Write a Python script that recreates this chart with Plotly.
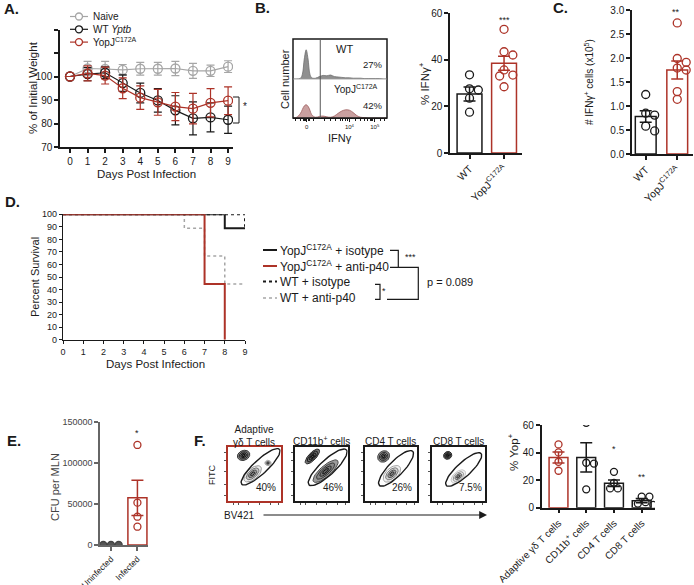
"""Multi-panel figure: weight loss, IFNg, survival, CFU and Yop+ cells"""

import numpy as np
import plotly.graph_objects as go

W, H = 694, 585
BLACK = "#1a1a1a"
RED = "#ad3328"
GRAY = "#a6a6a6"
FONT = "Liberation Sans, Arial, sans-serif"

# ---- Panel A: weight over time
days = [0, 1, 2, 3, 4, 5, 6, 7, 8, 9]
naive_mean = [100, 103.4, 103.2, 102.8, 103.3, 103.3, 103.4, 102.4, 102.4, 104.2]
naive_sem = [0, 3.0, 3.2, 2.3, 2.7, 2.7, 3.0, 3.2, 2.4, 2.5]
wt_mean = [100, 101.0, 101.6, 97.2, 93.0, 89.8, 85.6, 82.2, 82.6, 81.6]
wt_sem = [0, 2.8, 2.5, 3.5, 4.2, 5.0, 6.2, 7.0, 6.2, 5.8]
yopj_mean = [100, 101.3, 100.4, 95.0, 91.0, 89.0, 87.2, 86.3, 88.8, 89.7]
yopj_sem = [0, 3.2, 3.6, 4.4, 5.0, 5.5, 6.0, 6.5, 6.0, 5.9]

# ---- Panel B: flow histograms (IFNg)
hist_bins = [0.00, 0.04, 0.08, 0.10, 0.12, 0.14, 0.16, 0.18, 0.20, 0.24, 0.28, 0.32, 0.36,
             0.40, 0.44, 0.48, 0.52, 0.56, 0.60, 0.64, 0.68, 0.72, 0.76, 0.80, 0.84, 0.88,
             0.92, 0.96, 1.00]
hist_wt = [0, 0, 0.02, 0.12, 0.50, 0.73, 0.50, 0.12, 0.03, 0.02, 0.06, 0.09, 0.08, 0.10,
           0.06, 0.05, 0.04, 0.03, 0.03, 0.02, 0.02, 0.02, 0.01, 0.01, 0.01, 0.01, 0.01, 0, 0]
hist_yopj = [0, 0.02, 0.12, 0.22, 0.31, 0.34, 0.30, 0.20, 0.08, 0.02, 0.04, 0.05, 0.03, 0.02,
             0.05, 0.12, 0.18, 0.21, 0.20, 0.14, 0.06, 0.02, 0.01, 0, 0, 0, 0, 0, 0]
hist_pct = ["27%", "42%"]

# ---- Panel B: % IFNg+
groups_bc = ["WT", "YopJ<sup>C172A</sup>"]
ifng_pct_mean = [25.3, 38.5]
ifng_pct_sem = [3.0, 3.0]
ifng_pct_points = [[33.5, 27.5, 27.0, 23.5, 17.5], [53.0, 43.4, 42.0, 35.6, 33.4, 33.0, 28.4]]

# ---- Panel C: # IFNg+ cells (x10^5)
ifng_num_mean = [0.78, 1.75]
ifng_num_sem = [0.12, 0.19]
ifng_num_points = [[1.24, 0.85, 0.81, 0.58, 0.48], [2.73, 1.99, 1.91, 1.79, 1.75, 1.30, 1.14]]

# ---- Panel D: survival
surv_names = ["YopJ<sup>C172A</sup> + isotype", "YopJ<sup>C172A</sup> + anti-p40",
              "WT + isotype", "WT + anti-p40"]
surv_days = [[0, 8, 9], [0, 7, 8], [0, 9], [0, 6, 7, 8, 9]]
surv_pct = [[100, 88.9, 88.9], [100, 44.4, 0], [100, 90], [100, 88.9, 66.7, 44.4, 44.4]]

# ---- Panel E: CFU per MLN
cfu_groups = ["Uninfected", "Infected"]
cfu_mean = [0, 57500]
cfu_sem = [0, 21500]
cfu_points = [[0, 0, 0], [122000, 51600, 34500, 22300]]

# ---- Panel F: Yop+ cells
cell_types = ["Adaptive γδ T cells", "CD11b<sup>+</sup> cells", "CD4 T cells", "CD8 T cells"]
flow_titles = ["Adaptive<br>γδ T cells", "CD11b<sup>+</sup> cells", "CD4 T cells", "CD8 T cells"]
flow_pct = ["40%", "46%", "26%", "7.5%"]
yop_mean = [36.5, 36.5, 17.7, 5.1]
yop_sem = [4.0, 10.6, 2.4, 1.5]
yop_points = [[45.9, 40.1, 33.3, 26.8], [61.6, 32.6, 32.0, 13.3],
              [26.0, 18.0, 14.0, 14.0], [8.0, 8.0, 4.0, 3.0, 2.0]]


def px(x):
    return x / W


def py(y):
    return 1 - y / H


def dx(p0, p1):
    return [px(p0), px(p1)]


def dy(top, bottom):
    return [py(bottom), py(top)]


def note(text, x, y, size=10, anchor="center", angle=0, color=BLACK):
    return dict(text=text, x=px(x), y=py(y), xref="paper", yref="paper",
                xanchor=anchor, yanchor="middle", textangle=angle, showarrow=False,
                font=dict(size=size, color=color, family=FONT))


def swarm(vals, y_px, x_px, d):
    """Beeswarm x offsets (axis units) so circles do not overlap"""
    placed, out = [], []
    for v in vals:
        yp = v * y_px
        for k in [0, 1, -1, 2, -2, 3, -3, 4, -4]:
            xp = k * d * 0.55
            if all((xp - a) ** 2 + (yp - b) ** 2 >= (0.85 * d) ** 2 for a, b in placed):
                break
        placed.append((xp, yp))
        out.append(xp / x_px)
    return out


def ellipse(cx, cy, a, b, ang, n=60):
    t = np.linspace(0, 2 * np.pi, n)
    r = np.radians(ang)
    x = cx + a * np.cos(t) * np.cos(r) - b * np.sin(t) * np.sin(r)
    y = cy + a * np.cos(t) * np.sin(r) + b * np.sin(t) * np.cos(r)
    return x, y


base = dict(showgrid=False, zeroline=False, showline=True, linecolor=BLACK, linewidth=1.5,
            ticks="outside", ticklen=4, tickwidth=1.5, tickcolor=BLACK, automargin=False,
            tickfont=dict(size=10, color=BLACK, family=FONT))

fig = go.Figure()
layout = {}
shapes = []
notes = []

# ---------------- Panel A
layout["xaxis"] = dict(base, domain=dx(60, 233), range=[-0.57, 9.28], anchor="y", tickvals=days)
layout["yaxis"] = dict(base, domain=dy(29.5, 147), range=[70, 120], anchor="x",
                       tickvals=[70, 80, 90, 100, 110, 120],
                       ticktext=["70", "80", "90", "100", "", ""])
for mean, sem, color in [(naive_mean, naive_sem, GRAY), (wt_mean, wt_sem, BLACK),
                         (yopj_mean, yopj_sem, RED)]:
    fig.add_trace(go.Scatter(
        x=days, y=mean, mode="lines+markers", xaxis="x", yaxis="y",
        line=dict(color=color, width=1.2),
        marker=dict(symbol="circle-open", size=9, color=color, line=dict(width=1.3)),
        error_y=dict(type="data", array=sem, color=color, thickness=1.2, width=4)))

for i, (label, color) in enumerate([("Naive", GRAY), ("WT <i>Yptb</i>", BLACK),
                                    ("YopJ<sup>C172A</sup>", RED)]):
    yy = 16.5 + 12.8 * i
    shapes.append(dict(type="line", xref="paper", yref="paper", x0=px(70), x1=px(88),
                       y0=py(yy), y1=py(yy), line=dict(color=color, width=1.2)))
    shapes.append(dict(type="circle", xref="paper", yref="paper", x0=px(75.5), x1=px(82.5),
                       y0=py(yy + 3.5), y1=py(yy - 3.5),
                       line=dict(color=color, width=1.3), fillcolor="white"))
    notes.append(note(label, 91, yy, size=10, anchor="left"))


def ppath(pts):
    return " ".join(("M" if k == 0 else "L") + f" {px(x)} {py(y)}"
                    for k, (x, y) in enumerate(pts))


shapes.append(dict(type="path", xref="paper", yref="paper",
                   path=ppath([(233, 97), (239, 97), (239, 123), (233, 123)]),
                   line=dict(color=BLACK, width=1)))
notes += [note("<b>A.</b>", 2, 9, size=15, anchor="left"),
          note("% of Initial Weight", 33, 88, size=11.5, angle=-90),
          note("Days Post Infection", 146, 174, size=11.5),
          note("*", 245, 106, size=10)]

# ---------------- Panel B: histograms
hist_axis = dict(showgrid=False, zeroline=False, showline=False, showticklabels=False,
                 ticks="", range=[0, 1], automargin=False)
layout["xaxis2"] = dict(base, domain=dx(293, 387), range=[0, 1], anchor="y2", linewidth=1,
                        ticklen=3, tickwidth=1,
                        tickvals=[0.146, 0.6, 0.87],
                        ticktext=["0", "10<sup>4</sup>", "10<sup>5</sup>"],
                        tickfont=dict(size=6, color=BLACK, family=FONT),
                        minor=dict(ticks="outside", ticklen=2, tickcolor=BLACK,
                                   tickvals=[0.03, 0.08, 0.11, 0.12, 0.13, 0.16, 0.18, 0.22,
                                             0.34, 0.4, 0.45, 0.5, 0.53, 0.56, 0.58, 0.66,
                                             0.72, 0.76, 0.79, 0.82, 0.84, 0.85, 0.93, 0.97]))
layout["yaxis2"] = dict(hist_axis, domain=dy(79, 118), anchor="x2")
layout["xaxis3"] = dict(hist_axis, domain=dx(293, 387), anchor="y3")
layout["yaxis3"] = dict(hist_axis, domain=dy(39, 79), anchor="x3")
fig.add_trace(go.Scatter(x=hist_bins, y=hist_wt, mode="lines", fill="tozeroy",
                         line=dict(color="#6e6e6e", width=0.8, shape="spline"),
                         fillcolor="#8f8f8f", xaxis="x3", yaxis="y3"))
fig.add_trace(go.Scatter(x=hist_bins, y=hist_yopj, mode="lines", fill="tozeroy",
                         line=dict(color="#a06060", width=0.8, shape="spline"),
                         fillcolor="#c9a0a0", xaxis="x2", yaxis="y2"))
shapes += [
    dict(type="rect", xref="paper", yref="paper", x0=px(293), x1=px(387),
         y0=py(118), y1=py(39), line=dict(color=BLACK, width=1.5)),
    dict(type="line", xref="paper", yref="paper", x0=px(293), x1=px(387),
         y0=py(79), y1=py(79), line=dict(color="#999", width=0.8)),
    dict(type="line", xref="x2", yref="paper", x0=0.29, x1=0.29,
         y0=py(118), y1=py(39), line=dict(color="#555", width=1)),
]
notes += [note("<b>B.</b>", 253, 8, size=15, anchor="left"),
          note("Cell number", 285, 79, size=11, angle=-90),
          note("IFNγ", 340, 138, size=11),
          note("WT", 344, 49, size=11),
          note(hist_pct[0], 385, 64, size=9.5, anchor="right"),
          note("YopJ<sup>C172A</sup>", 356, 89, size=10),
          note(hist_pct[1], 385, 105, size=9.5, anchor="right")]


def bar_panel(n, xdom, ydom, xr, yr, labels, means, sems, points, colors,
              y_px, x_px, bar_w, dot=8, yticks=None, label_size=10.5, point_fill=None):
    layout[f"xaxis{n}"] = dict(base, domain=xdom, range=xr, anchor=f"y{n}",
                               tickvals=list(range(len(labels))), ticktext=labels,
                               tickangle=-45, tickfont=dict(size=label_size, color=BLACK,
                                                            family=FONT))
    layout[f"yaxis{n}"] = dict(base, domain=ydom, range=yr, anchor=f"x{n}")
    if yticks:
        layout[f"yaxis{n}"].update(yticks)
    fig.add_trace(go.Bar(x=list(range(len(labels))), y=means, width=bar_w,
                         marker=dict(color="white", line=dict(color=colors, width=1.5)),
                         xaxis=f"x{n}", yaxis=f"y{n}"))
    for i, (m, s, pts, c) in enumerate(zip(means, sems, points, colors)):
        fig.add_trace(go.Scatter(x=[i], y=[m], mode="markers", marker=dict(opacity=0),
                                 error_y=dict(type="data", array=[s], color=c,
                                              thickness=1.5, width=6),
                                 xaxis=f"x{n}", yaxis=f"y{n}"))
        offs = swarm(pts, y_px, x_px, dot)
        fill = point_fill[i] if point_fill else None
        fig.add_trace(go.Scatter(
            x=[i + o for o in offs], y=pts, mode="markers", xaxis=f"x{n}", yaxis=f"y{n}",
            marker=dict(symbol="circle" if fill else "circle-open", size=dot,
                        color=fill if fill else c, line=dict(width=1.3, color=c))))


# ---------------- Panel B bars
bar_panel(4, dx(450, 522), dy(13, 153), [-0.565, 1.52], [0, 60], groups_bc,
          ifng_pct_mean, ifng_pct_sem, ifng_pct_points, [BLACK, RED],
          140 / 60, 34.5, 0.72, yticks=dict(tickvals=[0, 20, 40, 60]))
notes += [note("% IFNγ<sup>+</sup>", 424, 83, size=11.5, angle=-90),
          note("***", 504, 20, size=9)]

# ---------------- Panel C bars
bar_panel(5, dx(632, 693), dy(10, 154), [-0.435, 1.5], [0, 3], groups_bc,
          ifng_num_mean, ifng_num_sem, ifng_num_points, [BLACK, RED],
          48, 31, 0.66, yticks=dict(tickvals=[0, 0.5, 1, 1.5, 2, 2.5, 3], tickformat=".1f"))
notes += [note("<b>C.</b>", 551, 8, size=15, anchor="left"),
          note("# IFNγ<sup>+</sup> cells (x10<sup>5</sup>)", 589, 82, size=10, angle=-90),
          note("**", 676, 12, size=9)]

# ---------------- Panel D survival
surv_styles = [(BLACK, "solid", 2), (RED, "solid", 2), (BLACK, "dot", 2), (GRAY, "dot", 1.5)]
layout["xaxis6"] = dict(base, domain=dx(63, 245), range=[0, 9], anchor="y6",
                        tickvals=days, linewidth=1.2, tickwidth=1.2, ticklen=3,
                        tickfont=dict(size=9, color=BLACK, family=FONT))
layout["yaxis6"] = dict(base, domain=dy(214.3, 339.7), range=[0, 100], anchor="x6",
                        tickvals=list(range(0, 101, 10)), linewidth=1.2, tickwidth=1.2,
                        ticklen=3, tickfont=dict(size=9, color=BLACK, family=FONT))
for order in [3, 2, 0, 1]:
    color, dash, width = surv_styles[order]
    fig.add_trace(go.Scatter(x=surv_days[order], y=surv_pct[order], mode="lines",
                             line=dict(color=color, dash=dash, width=width, shape="hv"),
                             xaxis="x6", yaxis="y6"))
for i, name in enumerate(surv_names):
    color, dash, width = surv_styles[i]
    yy = [250, 266, 281.5, 298][i]
    shapes.append(dict(type="line", xref="paper", yref="paper", x0=px(263), x1=px(277),
                       y0=py(yy), y1=py(yy), line=dict(color=color, dash=dash, width=width)))
    notes.append(note(name, 278, yy, size=12, anchor="left"))

for pts in [[(390, 250.3), (398.3, 250.3), (398.3, 267.3), (390, 267.3)],
            [(398.3, 267.3), (418.3, 267.3), (418.3, 299.3), (387, 299.3)],
            [(375, 284.3), (380, 284.3), (380, 299.3), (375, 299.3)]]:
    shapes.append(dict(type="path", xref="paper", yref="paper", path=ppath(pts),
                       line=dict(color=BLACK, width=1.2)))
notes += [note("<b>D.</b>", 3, 201, size=15, anchor="left"),
          note("Percent Survival", 35, 277, size=11, angle=-90),
          note("Days Post Infection", 155, 364, size=11.5),
          note("***", 411, 257, size=9),
          note("*", 384, 291, size=9),
          note("p = 0.089", 425, 282, size=11, anchor="left")]

# ---------------- Panel E
bar_panel(7, dx(100, 148), dy(422, 545), [-0.415, 1.4], [0, 150000], cfu_groups,
          cfu_mean, cfu_sem, cfu_points, ["#444444", RED],
          123 / 150000, 26.5, 0.72, dot=7, label_size=8.5,
          yticks=dict(tickvals=[0, 50000, 100000, 150000],
                      ticktext=["0", "50000", "100000", "150000"],
                      tickfont=dict(size=9, color="#444", family=FONT)),
          point_fill=["#555555", None])
layout["xaxis7"].update(linecolor="#666", tickcolor="#666")
layout["yaxis7"].update(linecolor="#666", tickcolor="#666")
notes += [note("<b>E.</b>", 5, 440, size=15, anchor="left"),
          note("CFU per MLN", 55, 487, size=11, angle=-90, color="#444"),
          note("*", 137, 433, size=9)]

# ---------------- Panel F flow plots
flow_x = [(227.7, 280.7), (295, 347.7), (365, 416.7), (431.7, 485)]
flow_gates = [(0.62, 0.63, 0.48, 0.13, 42), (0.62, 0.62, 0.48, 0.14, 42),
              (0.6, 0.6, 0.45, 0.14, 44), (0.6, 0.58, 0.44, 0.13, 42)]
flow_blobs = [
    [(0.3, 0.84, 0.12, 0.09, 20, 0.2), (0.47, 0.5, 0.2, 0.1, 40, 0.6),
     (0.76, 0.7, 0.06, 0.05, 0, 0.7)],
    [(0.33, 0.82, 0.18, 0.07, 45, 0.15), (0.58, 0.55, 0.3, 0.1, 40, 0.3)],
    [(0.36, 0.82, 0.12, 0.1, 30, 0.25), (0.52, 0.5, 0.2, 0.11, 40, 0.65)],
    [(0.3, 0.84, 0.08, 0.07, 30, 0.15), (0.5, 0.45, 0.16, 0.09, 40, 0.78)],
]
for k in range(4):
    n = 8 + k
    edge = RED if k == 0 else BLACK
    flow_axis = dict(showgrid=False, zeroline=False, showline=True, mirror=True,
                     linecolor=edge, linewidth=2, ticks="outside", ticklen=2, tickwidth=1,
                     tickcolor="#555", showticklabels=False, range=[0, 1], automargin=False)
    layout[f"xaxis{n}"] = dict(flow_axis, domain=dx(*flow_x[k]), anchor=f"y{n}",
                               tickvals=[0.1, 0.2, 0.4, 0.6, 0.8, 0.95])
    layout[f"yaxis{n}"] = dict(flow_axis, domain=dy(446.7, 501), anchor=f"x{n}",
                               tickvals=[0.1, 0.3, 0.55, 0.75, 0.9])
    for cx, cy, a, b, ang, tone in flow_blobs[k]:
        for j, s in enumerate([1.0, 0.72, 0.46, 0.24]):
            g = min(int(255 * tone * (1 - 0.25 * j)), 210)
            fg = min(g + 80, 240)
            ex, ey = ellipse(cx, cy, a * s, b * s, ang, 40)
            fig.add_trace(go.Scatter(x=ex, y=ey, mode="lines", xaxis=f"x{n}", yaxis=f"y{n}",
                                     fill="toself", fillcolor=f"rgb({fg},{fg},{fg})",
                                     line=dict(color=f"rgb({g},{g},{g})", width=1)))
    ex, ey = ellipse(*flow_gates[k])
    fig.add_trace(go.Scatter(x=ex, y=ey, mode="lines", xaxis=f"x{n}", yaxis=f"y{n}",
                             line=dict(color=BLACK, width=1.4)))
    cx = sum(flow_x[k]) / 2
    notes.append(note(flow_titles[k], cx, 436 if k == 0 else 441, size=10))
    notes.append(note(flow_pct[k], flow_x[k][1] - 15, 487, size=10))

notes += [note("<b>F.</b>", 192, 440, size=15, anchor="left"),
          note("FITC", 212, 475, size=9, angle=-90),
          note("BV421", 239, 515, size=10),
          dict(text="", x=px(487), y=py(515), xref="paper", yref="paper", ax=-225, ay=0,
               showarrow=True, arrowhead=2, arrowsize=1.3, arrowwidth=1.2,
               arrowcolor=BLACK)]

# ---------------- Panel F bars
bar_panel(12, dx(541.7, 655), dy(425, 507.7), [-0.606, 3.48], [0, 60], cell_types,
          yop_mean, yop_sem, yop_points, [RED, BLACK, BLACK, BLACK],
          82.7 / 60, 27.7, 0.68, dot=7, label_size=10,
          yticks=dict(tickvals=[0, 20, 40, 60]))
notes += [note("% Yop<sup>+</sup>", 513, 452, size=11.5, angle=-90),
          note("*", 614, 449, size=9),
          note("**", 642, 477, size=9)]

fig.update_layout(
    width=W, height=H, margin=dict(l=0, r=0, t=0, b=0, autoexpand=False),
    paper_bgcolor="white", plot_bgcolor="white", showlegend=False,
    barmode="overlay", font=dict(family=FONT, color=BLACK), hovermode=False,
    shapes=shapes, annotations=notes, **layout)

# the page body has a default 8px margin; drop it so the figure sits at the corner
fig.write_html("out.html", config={"displayModeBar": False},
               post_script="document.body.style.margin = '0';")
